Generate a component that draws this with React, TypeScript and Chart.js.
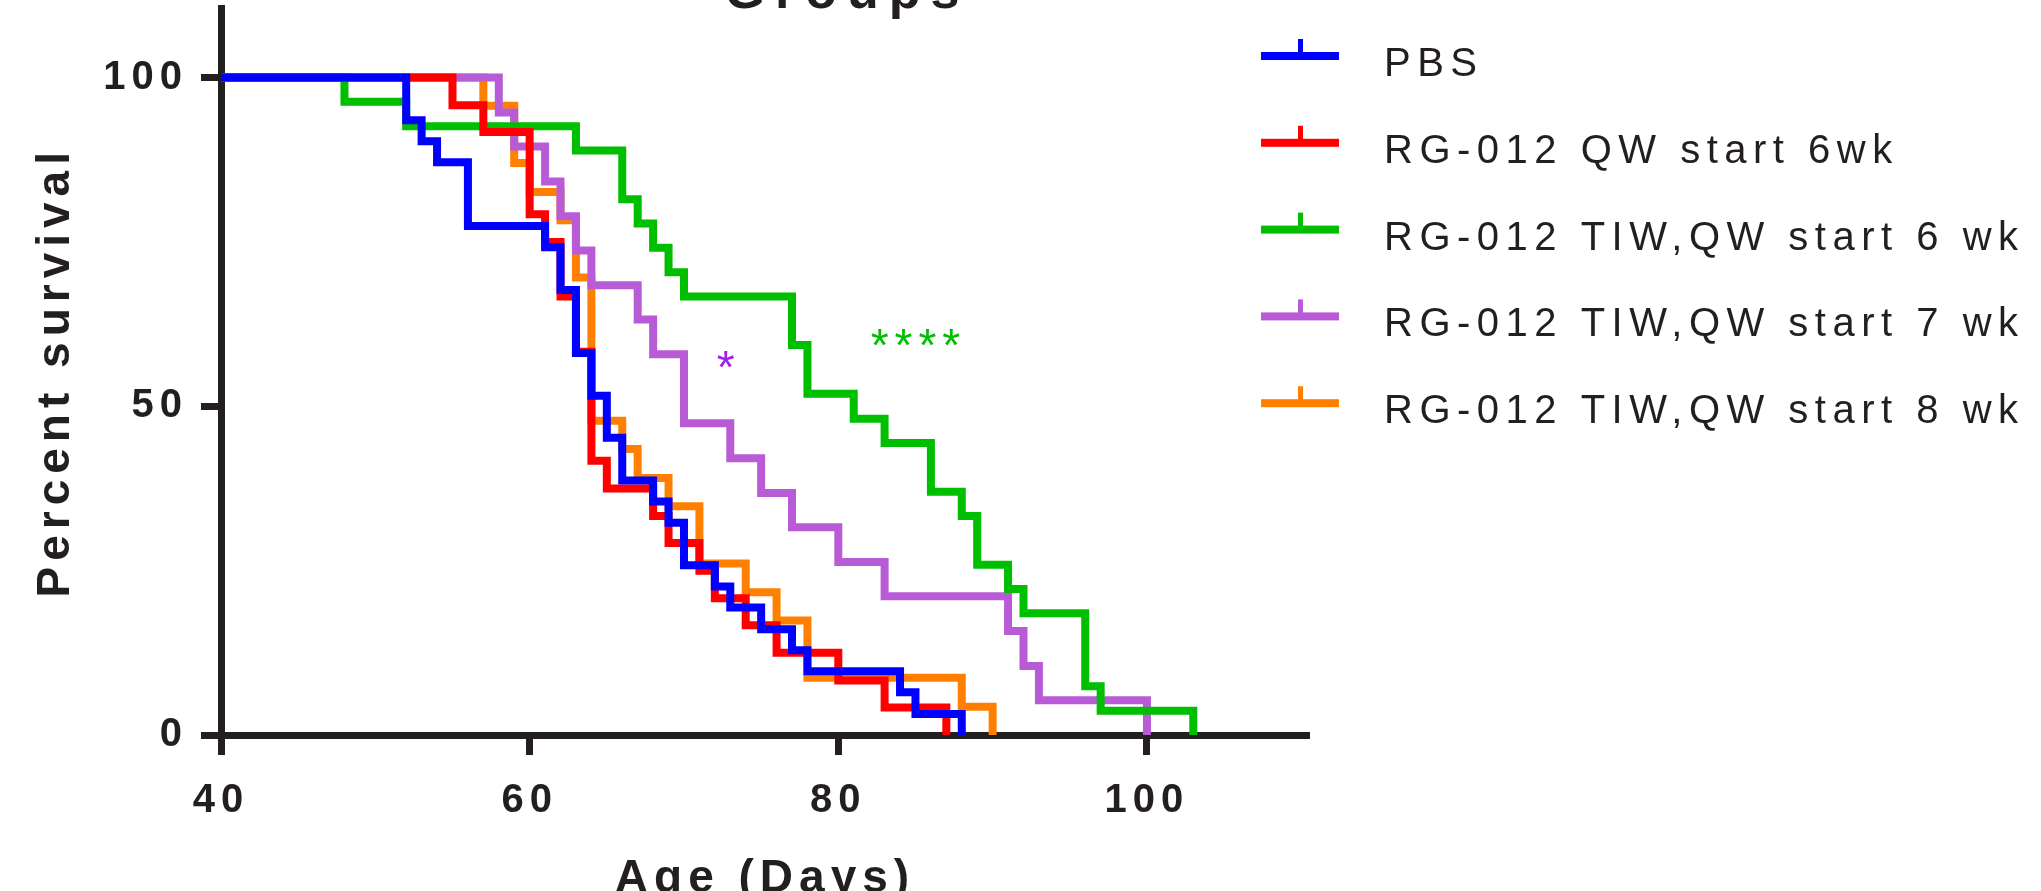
import React, { useEffect, useRef } from 'react';
import { Chart, registerables } from 'chart.js';

Chart.register(...registerables);

const W = 2041;
const H = 891;
const FONT = '"Liberation Sans", Arial, Helvetica, sans-serif';
const INK = '#231f20';

const TITLE = 'Groups';
const X_TITLE = 'Age (Days)';
const Y_TITLE = 'Percent survival';
const X_MIN = 40;
const X_MAX = 110.5;
const Y_MIN = 0;
const Y_MAX = 110.5;
const X_TICKS = [40, 60, 80, 100];
const Y_TICKS = [0, 50, 100];

const SERIES_LABELS = [
  'PBS',
  'RG-012 QW start 6wk',
  'RG-012 TIW,QW start 6 wk',
  'RG-012 TIW,QW start 7 wk',
  'RG-012 TIW,QW start 8 wk',
];
const SERIES_COLORS = ['#0000ff', '#ff0000', '#00bf00', '#b95bd6', '#ff8000'];

// Kaplan–Meier steps: day of event, percent surviving after it
const PBS_DAYS = [40, 52, 53, 54, 56, 61, 62, 63, 64, 65, 66, 68, 69, 70, 72, 73, 75, 77, 78, 84, 85, 88];
const PBS_SURV = [100, 93.5, 90.3, 87.1, 77.4, 74.2, 67.7, 58.1, 51.6, 45.2, 38.7, 35.5, 32.3, 25.8, 22.6, 19.4, 16.1, 12.9, 9.7, 6.5, 3.2, 0];

const QW6_DAYS = [40, 55, 57, 60, 61, 62, 63, 64, 65, 68, 69, 71, 72, 74, 76, 80, 83, 87];
const QW6_SURV = [100, 95.8, 91.7, 79.2, 75, 66.7, 58.3, 41.7, 37.5, 33.3, 29.2, 25, 20.8, 16.7, 12.5, 8.3, 4.2, 0];

const TIW6_DAYS = [40, 48, 52, 63, 66, 67, 68, 69, 70, 77, 78, 81, 83, 86, 88, 89, 91, 92, 96, 97, 103];
const TIW6_SURV = [100, 96.3, 92.6, 88.9, 81.5, 77.8, 74.1, 70.4, 66.7, 59.3, 51.9, 48.1, 44.4, 37.0, 33.3, 25.9, 22.2, 18.5, 7.4, 3.7, 0];

const TIW7_DAYS = [40, 58, 59, 61, 62, 63, 64, 67, 68, 70, 73, 75, 77, 80, 83, 91, 92, 93, 100];
const TIW7_SURV = [100, 94.7, 89.5, 84.2, 78.9, 73.7, 68.4, 63.2, 57.9, 47.4, 42.1, 36.8, 31.6, 26.3, 21.1, 15.8, 10.5, 5.3, 0];

const TIW8_DAYS = [40, 57, 59, 60, 62, 63, 64, 66, 67, 69, 71, 74, 76, 78, 88, 90];
const TIW8_SURV = [100, 95.7, 87.0, 82.6, 78.3, 69.6, 47.8, 43.5, 39.1, 34.8, 26.1, 21.7, 17.4, 8.7, 4.3, 0];

const SERIES_DAYS = [PBS_DAYS, QW6_DAYS, TIW6_DAYS, TIW7_DAYS, TIW8_DAYS];
const SERIES_SURV = [PBS_SURV, QW6_SURV, TIW6_SURV, TIW7_SURV, TIW8_SURV];

const ANNOT_TEXT = ['*', '****'];
const ANNOT_COLORS = ['#a020f0', '#00bf00'];
const ANNOT_DAY = [72.7, 85.0];
const ANNOT_PCT = [57.4, 60.7];

const decorPlugin = {
  id: 'decor',
  beforeDraw(chart: any) {
    chart.ctx.letterSpacing = '6px';
  },
  afterDraw(chart: any) {
    const ctx = chart.ctx;
    ctx.save();
    // title (partly above the canvas, as in the reference)
    ctx.font = `bold 52px ${FONT}`;
    ctx.letterSpacing = '10px';
    ctx.fillStyle = INK;
    ctx.textAlign = 'center';
    ctx.textBaseline = 'alphabetic';
    ctx.fillText(TITLE, 847, 8);

    // legend
    const lx0 = 1261;
    const lx1 = 1339;
    const ly0 = 56;
    const lstep = 86.8;
    chart.data.datasets.forEach((ds: any, i: number) => {
      const y = ly0 + i * lstep;
      ctx.fillStyle = ds.borderColor;
      ctx.fillRect(lx0, y - 4, lx1 - lx0, 8);
      ctx.fillRect(1298, y - 17, 5, 14);
      ctx.font = `40px ${FONT}`;
      ctx.letterSpacing = '6.5px';
      ctx.fillStyle = INK;
      ctx.textAlign = 'left';
      ctx.textBaseline = 'alphabetic';
      ctx.fillText(ds.label, 1384, y + 20);
    });

    // significance marks
    const xs = chart.scales.x;
    const ys = chart.scales.y;
    ctx.font = `46px ${FONT}`;
    ctx.letterSpacing = '6px';
    ctx.textAlign = 'center';
    ctx.textBaseline = 'alphabetic';
    ANNOT_TEXT.forEach((t, i) => {
      ctx.fillStyle = ANNOT_COLORS[i];
      const px = xs.getPixelForValue(ANNOT_DAY[i]);
      const py = ys.getPixelForValue(ANNOT_PCT[i]);
      ctx.fillText(t, px + 3, py + 25);
    });
    ctx.restore();
  },
};

export default function App() {
  const ref = useRef<HTMLCanvasElement>(null);
  useEffect(() => {
    const canvas = ref.current;
    if (!canvas) return;
    const datasets = SERIES_LABELS.map((label, i) => ({
      label,
      data: SERIES_DAYS[i].map((d, k) => ({ x: d, y: SERIES_SURV[i][k] })),
      borderColor: SERIES_COLORS[i],
      backgroundColor: SERIES_COLORS[i],
      borderWidth: 8,
      pointRadius: 0,
      pointHoverRadius: 0,
      stepped: 'before' as const,
      fill: false,
      clip: false as any,
      borderJoinStyle: 'miter' as const,
      borderCapStyle: 'butt' as const,
    }));
    const chart = new Chart(canvas, {
      type: 'line',
      data: { datasets },
      options: {
        animation: false,
        responsive: false,
        maintainAspectRatio: false,
        events: [],
        layout: { padding: { top: 8.5, right: W - 1309, bottom: 0, left: 0 } },
        plugins: {
          legend: { display: false },
          title: { display: false },
          tooltip: { enabled: false },
        },
        scales: {
          x: {
            type: 'linear',
            min: X_MIN,
            max: X_MAX,
            z: 1,
            afterBuildTicks: (s: any) => {
              s.ticks = X_TICKS.map((v) => ({ value: v }));
            },
            afterFit: (s: any) => {
              s.height = 156;
              s.paddingLeft = 0;
              s.paddingRight = 0;
            },
            grid: { drawOnChartArea: false, drawTicks: true, tickLength: 20, tickWidth: 7, tickColor: INK },
            border: { display: true, width: 7, color: INK },
            ticks: {
              color: INK,
              autoSkip: false,
              maxRotation: 0,
              padding: 22,
              font: { family: FONT, size: 40, weight: 'bold', lineHeight: 1.2 },
            },
            title: {
              display: true,
              text: X_TITLE,
              color: INK,
              font: { family: FONT, size: 46, weight: 'bold', lineHeight: 1 },
              padding: { top: 0, bottom: -11 },
            },
          },
          y: {
            type: 'linear',
            min: Y_MIN,
            max: Y_MAX,
            z: 1,
            afterBuildTicks: (s: any) => {
              s.ticks = Y_TICKS.map((v) => ({ value: v }));
            },
            afterFit: (s: any) => {
              s.width = 221;
              s.paddingTop = 0;
              s.paddingBottom = 0;
            },
            grid: { drawOnChartArea: false, drawTicks: true, tickLength: 20, tickWidth: 7, tickColor: INK },
            border: { display: true, width: 7, color: INK },
            ticks: {
              color: INK,
              autoSkip: false,
              padding: 13,
              font: { family: FONT, size: 40, weight: 'bold', lineHeight: 1.2 },
            },
            title: {
              display: true,
              text: Y_TITLE,
              color: INK,
              font: { family: FONT, size: 46, weight: 'bold', lineHeight: 1 },
              padding: { top: 33, bottom: 0 },
            },
          },
        },
      } as any,
      plugins: [decorPlugin],
    });
    return () => chart.destroy();
  }, []);
  return (
    <div style={{ position: 'absolute', left: 0, top: 0, width: W, height: H, background: '#ffffff' }}>
      <canvas ref={ref} width={W} height={H} style={{ display: 'block', width: W, height: H }} />
    </div>
  );
}
